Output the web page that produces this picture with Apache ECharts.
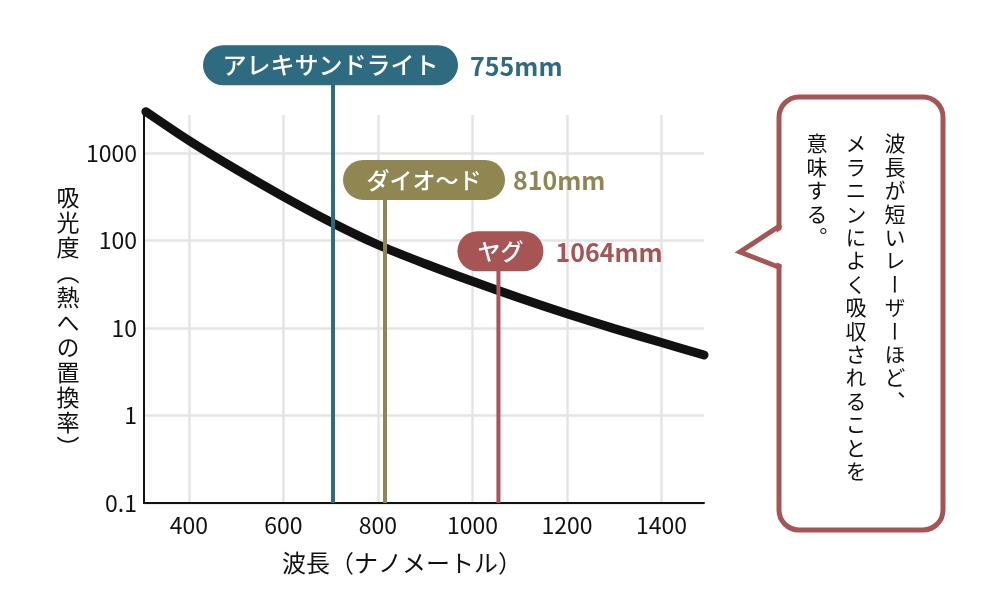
<!DOCTYPE html>
<html lang="ja">
<head>
<meta charset="UTF-8">
<script src="https://cdn.jsdelivr.net/npm/echarts@6/dist/echarts.min.js"></script>
<style>
  html, body { margin: 0; padding: 0; background: #fff; }
  #wrap { position: relative; width: 1000px; height: 600px; }
  #main { width: 1000px; height: 600px; }
  .vtext {
    position: absolute;
    writing-mode: vertical-rl;
    font-family: "Noto Sans CJK JP", sans-serif;
    color: #111;
    z-index: 5;
    white-space: nowrap;
  }
  #yname { left: 54px; top: 186px; font-size: 23px; line-height: 28px; letter-spacing: 2px; }
  #note { left: 797px; top: 133px; font-size: 21px; line-height: 39px; letter-spacing: 2.4px; }
</style>
</head>
<body>
<div id="wrap">
  <div id="main"></div>
  <div id="yname" class="vtext">吸光度（熱への置換率）</div>
  <div id="note" class="vtext">波長が短いレーザーほど、<br>メラニンによく吸収されることを<br>意味する。</div>
</div>
<script type="text/javascript">
// 波長(nm) と 吸光度
const wavelength = [309, 400, 500, 600, 700, 800, 900, 1000, 1100, 1200, 1300, 1400, 1490];
const absorbance = [2950, 1380, 645, 316, 162, 89, 54, 34, 22, 14.5, 9.8, 6.8, 4.9];
const xTicks = [400, 600, 800, 1000, 1200, 1400];
const yTicks = [0.1, 1, 10, 100, 1000];

// レーザーの種類
const laserNames = ['アレキサンドライト', 'ダイオ〜ド', 'ヤグ'];
const laserLabels = ['755mm', '810mm', '1064mm'];
const laserX = [705, 815, 1055];
const laserTop = [10000, 490, 75];

// 見た目
const laserColors = ['#2e6a80', '#8f8651', '#a65454'];
const pillLayout = [
  { dx: -130, w: 255, tx: 137, fs: 24 },
  { dx: -42, w: 162, tx: 128, fs: 23 },
  { dx: -41, w: 86, tx: 57, fs: 23 }
];
const FONT = '"Noto Sans CJK JP", sans-serif';

var myChart = echarts.init(document.getElementById('main'));

// レーザーごとの縦線
const laserSeries = laserX.map((x, i) => ({
  type: 'line',
  data: [[x, laserTop[i]], [x, 0.1]],
  clip: false,
  symbol: 'none',
  silent: true,
  z: 3,
  lineStyle: { color: laserColors[i], width: 4 }
}));

myChart.setOption({
  animation: false,
  grid: { left: 144, right: 296, top: 115, bottom: 97 },
  xAxis: {
    type: 'value',
    min: 305,
    max: 1490,
    name: '波長（ナノメートル）',
    nameLocation: 'middle',
    nameGap: 48,
    nameTextStyle: { fontFamily: FONT, fontSize: 24, color: '#111', padding: [0, 44, 0, 0] },
    axisLine: { lineStyle: { color: '#111', width: 2 } },
    axisTick: { show: false, customValues: xTicks },
    axisLabel: {
      customValues: xTicks, fontFamily: FONT, fontSize: 23, color: '#111', margin: 11,
      formatter: v => String(v)
    },
    splitLine: { show: true, lineStyle: { color: '#e4e4e4', width: 2.5 } }
  },
  yAxis: {
    type: 'log',
    logBase: 10,
    min: 0.1,
    max: 2700,
    axisLine: { show: true, lineStyle: { color: '#111', width: 2 } },
    axisTick: { show: false, customValues: yTicks },
    axisLabel: {
      customValues: yTicks,
      fontFamily: FONT, fontSize: 23, color: '#111', margin: 7,
      formatter: v => String(+(+v).toPrecision(3))
    },
    splitLine: { show: true, lineStyle: { color: '#e4e4e4', width: 2.5 } }
  },
  series: [{
    type: 'line',
    data: wavelength.map((w, i) => [w, absorbance[i]]),
    smooth: 0.3,
    clip: false,
    symbol: 'none',
    z: 2,
    lineStyle: { color: '#111', width: 9, cap: 'round' }
  }].concat(laserSeries)
});

// ラベル(ピル型)と吹き出し
const graphics = [];
laserX.forEach((x, i) => {
  const p = myChart.convertToPixel({ gridIndex: 0 }, [x, laserTop[i]]);
  const L = pillLayout[i];
  graphics.push({
    type: 'rect', z: 100,
    shape: { x: p[0] + L.dx, y: p[1] - 20, width: L.w, height: 40, r: 20 },
    style: { fill: laserColors[i] }
  });
  graphics.push({
    type: 'text', z: 101,
    x: p[0] + L.dx + L.w / 2, y: p[1],
    style: {
      text: laserNames[i], fill: '#fff', font: '500 ' + L.fs + 'px ' + FONT,
      align: 'center', verticalAlign: 'middle'
    }
  });
  graphics.push({
    type: 'text', z: 101,
    x: p[0] + L.tx, y: p[1] + 1,
    style: {
      text: laserLabels[i], fill: laserColors[i], font: 'bold 25px ' + FONT,
      align: 'left', verticalAlign: 'middle'
    }
  });
});

graphics.push({
  type: 'rect', z: 100,
  shape: { x: 779, y: 97, width: 164, height: 433, r: 20 },
  style: { fill: '#fff', stroke: '#a65454', lineWidth: 5 }
});
graphics.push({
  type: 'polygon', z: 101,
  shape: { points: [[784, 228], [745, 252], [784, 265]] },
  style: { fill: '#fff' }
});
graphics.push({
  type: 'polyline', z: 102,
  shape: { points: [[781, 225], [740, 252], [781, 268]] },
  style: { stroke: '#a65454', lineWidth: 5, fill: null, lineJoin: 'miter' }
});

myChart.setOption({ graphic: graphics });
</script>
</body>
</html>
